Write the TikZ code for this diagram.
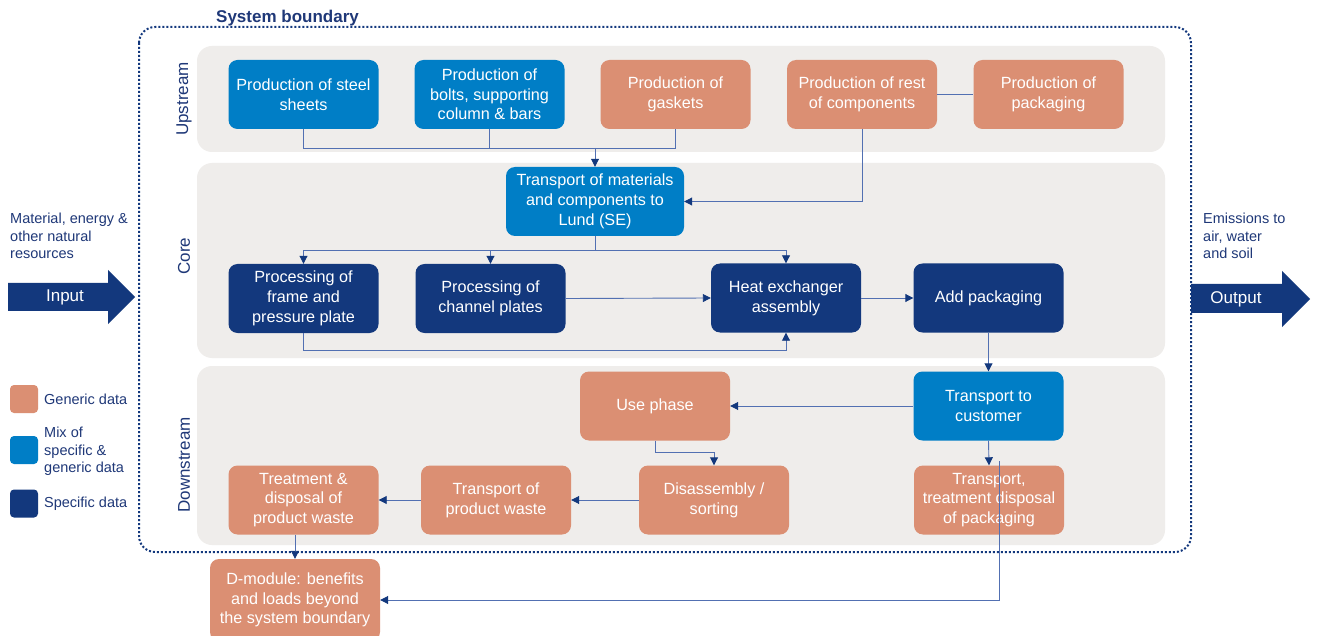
\documentclass[tikz,border=0pt]{standalone}
\usepackage{fontspec}
\setmainfont{Liberation Sans}
\usetikzlibrary{arrows.meta}
\definecolor{orng}{RGB}{219,143,115}
\definecolor{mblue}{RGB}{0,126,198}
\definecolor{navy}{RGB}{19,56,125}
\definecolor{band}{RGB}{239,237,235}
\definecolor{lbl}{RGB}{31,56,120}
\definecolor{lnk}{RGB}{82,112,178}
\tikzset{
  box/.style={rectangle, rounded corners=9pt, minimum width=150pt, minimum height=69pt, inner sep=2pt, align=center, text=white, font=\fontsize{16.2}{19.7}\selectfont},
  gen/.style={box, fill=orng},
  mix/.style={box, fill=mblue},
  spec/.style={box, fill=navy},
  conn/.style={draw=lnk, line width=0.9pt},
  arr/.style={conn, -{Triangle[length=8pt,width=8pt,color=navy]}},
  bandlbl/.style={rotate=90, text=lbl, font=\fontsize{17}{20}\selectfont},
  sidetxt/.style={text=lbl, align=left, anchor=north west, inner sep=0pt, font=\fontsize{14.5}{17.5}\selectfont},
  legsq/.style={rectangle, rounded corners=4pt, minimum width=28pt, minimum height=28pt, inner sep=0pt},
  legtxt/.style={text=lbl, align=left, anchor=west, inner sep=0pt, font=\fontsize{14.5}{17.5}\selectfont},
}
\begin{document}
\begin{tikzpicture}[x=1pt,y=-1pt]
\useasboundingbox[fill=white] (0,0) rectangle (1317,636);
% bands
\fill[band, rounded corners=15pt] (197,46) rectangle (1165,152);
\fill[band, rounded corners=15pt] (197,163) rectangle (1165,358);
\fill[band, rounded corners=15pt] (197,366) rectangle (1165,545);
% system boundary
\draw[navy, line width=2pt, dash pattern=on 2pt off 2pt, rounded corners=16pt] (139,27) rectangle (1191,552);
\node[anchor=base west, inner sep=0pt, text=lbl, font=\fontsize{17}{20}\selectfont\bfseries] (sb) at (216,23) {System boundary};
% band labels
\node[bandlbl] (lup) at (184,99) {Upstream};
\node[bandlbl] (lcore) at (184,256) {Core};
\node[bandlbl] (ldown) at (184,465) {Downstream};
% upstream
\node[mix] (steel) at (303.5,94.5) {Production of steel\\sheets};
\node[mix] (bolts) at (489.5,94.5) {Production of\\bolts, supporting\\column \& bars};
\node[gen] (gask) at (675.5,94.5) {Production of\\gaskets};
\node[gen] (rest) at (862,94.5) {Production of rest\\of components};
\node[gen] (pack) at (1048.5,94.5) {Production of\\packaging};
% core
\node[mix, minimum width=178pt] (tm) at (595,201.5) {Transport of materials\\and components to\\Lund (SE)};
\node[spec] (frame) at (303.5,298.5) {Processing of\\frame and\\pressure plate};
\node[spec] (chan) at (490.5,298.5) {Processing of\\channel plates};
\node[spec] (heat) at (786,298) {Heat exchanger\\assembly};
\node[spec] (addp) at (988.5,298) {Add packaging};
% downstream
\node[gen] (use) at (655,406) {Use phase};
\node[mix] (tc) at (988.5,406) {Transport to\\customer};
\node[gen] (treat) at (303.5,500) {Treatment \&\\disposal of\\product waste};
\node[gen] (tpw) at (496,500) {Transport of\\product waste};
\node[gen] (dis) at (714,500) {Disassembly /\\sorting};
\node[gen] (ttp) at (989,500) {Transport,\\treatment disposal\\of packaging};
\node[gen, minimum width=170pt, minimum height=82pt] (dmod) at (295,600) {D-module: benefits\\and loads beyond\\the system boundary};
% connectors upstream
\coordinate (j1) at (595,148);
\draw[conn] (steel.south) |- (j1);
\draw[conn] (gask.south) |- (j1);
\draw[conn] (bolts.south) -- (bolts.south |- j1);
\draw[arr] (j1) -- (tm.north);
\draw[arr] (rest.south) |- (tm.east);
\draw[conn] (rest.east) -- (pack.west);
% core connectors
\coordinate (j2) at (595,250);
\draw[conn] (tm.south) -- (j2);
\draw[arr] (j2) -| (frame.north);
\draw[arr] (j2) -| (chan.north);
\draw[arr] (j2) -| (heat.north);
\draw[arr] (chan.east) -- (heat.west);
\draw[arr] (heat.east) -- (addp.west);
\draw[arr] (frame.south) -- ++(0,17) -| (heat.south);
\draw[arr] (addp.south) -- (tc.north);
% downstream connectors
\draw[arr] (tc.west) -- (use.east);
\draw[arr] (use.south) -- ++(0,12) -| (dis.north);
\draw[arr] (dis.west) -- (tpw.east);
\draw[arr] (tpw.west) -- (treat.east);
\draw[arr] (treat.south -| dmod.north) -- (dmod.north);
\draw[arr] (tc.south) -- (ttp.north);
\coordinate (k) at (999,461);
\draw[arr] (k) |- (dmod.east);
% input / output
\fill[navy] (8,283) -- (108,283) -- (108,270) -- (135,297) -- (108,324) -- (108,311) -- (8,311) -- cycle;
\node[text=white, font=\fontsize{17}{20}\selectfont] (inp) at (65,297.5) {Input};
\fill[navy] (1191,284) -- (1282,284) -- (1282,271) -- (1310,299) -- (1282,327) -- (1282,313) -- (1191,313) -- cycle;
\node[text=white, font=\fontsize{17}{20}\selectfont] (outp) at (1236,299) {Output};
\node[sidetxt] (mat) at (10,213) {Material, energy \&\\other natural\\resources};
\node[sidetxt] (emi) at (1203,213) {Emissions to\\air, water\\and soil};
% legend
\node[legsq, fill=orng] (lg1) at (24,399) {};
\node[legtxt] (lt1) at (44,399) {Generic data};
\node[legsq, fill=mblue] (lg2) at (24,450) {};
\node[legtxt] (lt2) at (44,451.5) {Mix of\\specific \&\\generic data};
\node[legsq, fill=navy] (lg3) at (24,503.5) {};
\node[legtxt] (lt3) at (44,504) {Specific data};
\end{tikzpicture}
\end{document}
